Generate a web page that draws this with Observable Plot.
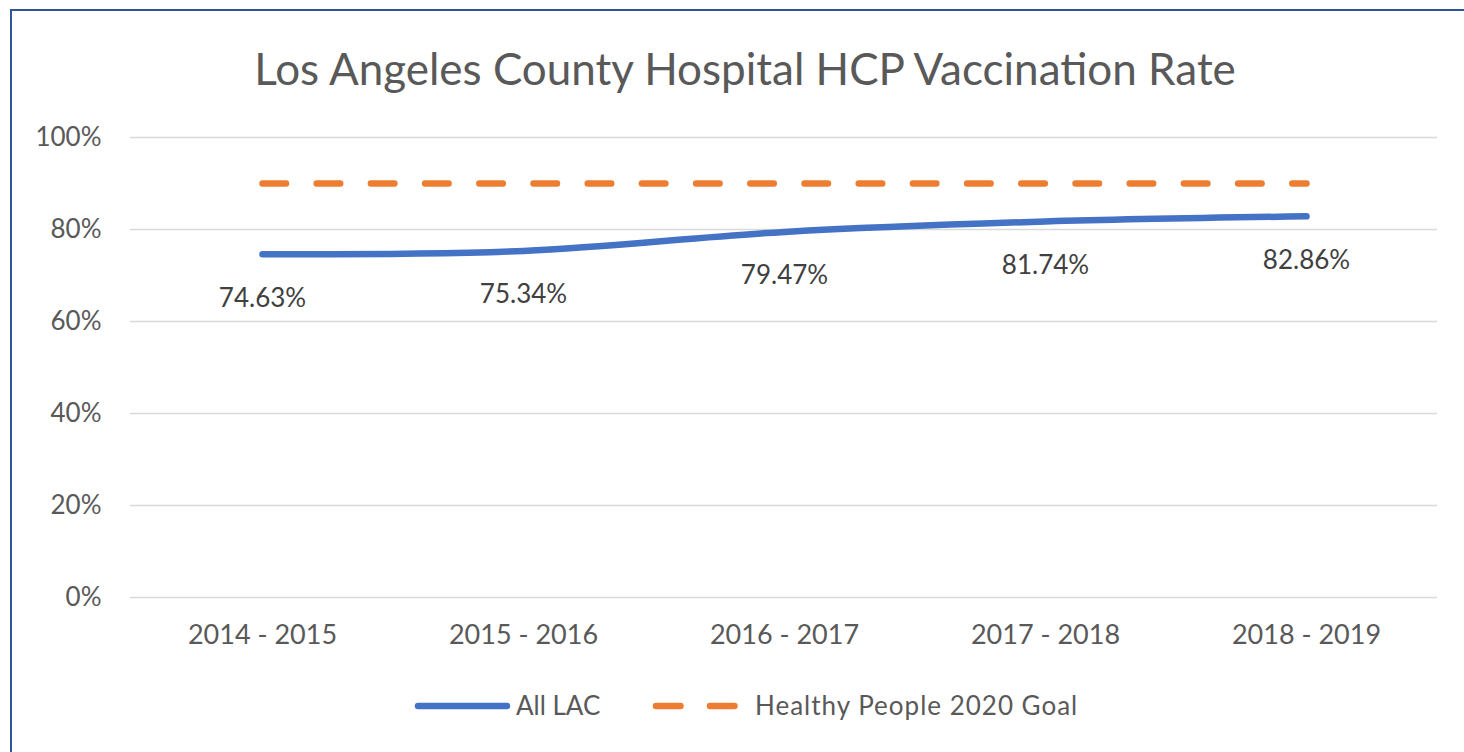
<!DOCTYPE html>
<html>
<head>
<meta charset="utf-8">
<script src="https://cdn.jsdelivr.net/npm/d3@7"></script>
<script src="https://cdn.jsdelivr.net/npm/@observablehq/plot@0.6"></script>
<style>
  html, body { margin: 0; padding: 0; background: #fff; overflow: hidden; }
  #wrap { position: relative; width: 1464px; height: 752px; background: #fff; font-family: Lato, "Open Sans", sans-serif; color: #595959; }
  #frame { position: absolute; left: 10px; top: 9px; width: 1600px; height: 900px; border: 2px solid #2f5597; box-sizing: border-box; }
  #title { position: absolute; left: 0; width: 1490px; top: 41px; text-align: center; font-size: 44px; line-height: 54px; color: #595959; }
  #chart { position: absolute; left: 0; top: 100px; }
  #legend { position: absolute; left: 0; top: 686px; width: 1464px; height: 40px; }
</style>
</head>
<body>
<div id="wrap">
  <div id="frame"></div>
  <div id="title"></div>
  <div id="chart"></div>
  <svg id="legend" width="1464" height="40"></svg>
</div>
<script>
const titleText = "Los Angeles County Hospital HCP Vaccination Rate";
const seasons = ["2014 - 2015", "2015 - 2016", "2016 - 2017", "2017 - 2018", "2018 - 2019"];
const allLAC = [0.7463, 0.7534, 0.7947, 0.8174, 0.8286];
const goal = [0.90, 0.90, 0.90, 0.90, 0.90];
const yTicks = [0, 0.2, 0.4, 0.6, 0.8, 1.0];
const seriesNames = ["All LAC", "Healthy People 2020 Goal"];
const seriesColors = ["#4472C4", "#ED7D31"];

document.getElementById("title").textContent = titleText;

const lacData = seasons.map((s, i) => ({season: s, value: allLAC[i]}));
const goalData = seasons.map((s, i) => ({season: s, value: goal[i]}));
const pct = d3.format(".2%");

const chart = Plot.plot({
  width: 1464,
  height: 580,
  marginLeft: 130,
  marginRight: 27,
  marginTop: 37,
  marginBottom: 83,
  style: {fontFamily: "Lato, 'Open Sans', sans-serif", color: "#595959", background: "transparent"},
  x: {type: "point", domain: seasons, padding: 0.5},
  y: {domain: [0, 1]},
  marks: [
    Plot.gridY(yTicks, {stroke: "#d9d9d9", strokeOpacity: 1, strokeWidth: 1.5}),
    Plot.axisY(yTicks, {tickSize: 0, tickPadding: 29, tickFormat: d3.format(".0%"), fontSize: 26, fill: "#595959", label: null}),
    Plot.axisX({tickSize: 0, tickPadding: 27, fontSize: 27, fill: "#595959", label: null}),
    Plot.line(goalData, {x: "season", y: "value", stroke: seriesColors[1], strokeWidth: 6.5, strokeDasharray: "23.5,30.7", strokeLinecap: "round"}),
    Plot.line(lacData, {x: "season", y: "value", stroke: seriesColors[0], strokeWidth: 6.5, strokeLinecap: "round", curve: "catmull-rom"}),
    Plot.text(lacData, {x: "season", y: "value", text: d => pct(d.value), dy: 44, fontSize: 26, fill: "#404040"})
  ]
});
document.getElementById("chart").appendChild(chart);

// Legend
const lg = d3.select("#legend");
const ly = 20;
lg.append("line").attr("x1", 418).attr("x2", 507).attr("y1", ly).attr("y2", ly)
  .attr("stroke", seriesColors[0]).attr("stroke-width", 6.5).attr("stroke-linecap", "round");
lg.append("text").attr("x", 516).attr("y", ly).attr("dy", "0.35em")
  .attr("font-size", 26).attr("fill", "#595959").attr("font-family", "Lato, 'Open Sans', sans-serif").text(seriesNames[0]);
lg.append("line").attr("x1", 656).attr("x2", 735).attr("y1", ly).attr("y2", ly)
  .attr("stroke", seriesColors[1]).attr("stroke-width", 6.5).attr("stroke-linecap", "round").attr("stroke-dasharray", "24.5,29.5");
lg.append("text").attr("x", 755).attr("y", ly).attr("dy", "0.35em").attr("letter-spacing", 1)
  .attr("font-size", 26).attr("fill", "#595959").attr("font-family", "Lato, 'Open Sans', sans-serif").text(seriesNames[1]);
</script>
</body>
</html>
